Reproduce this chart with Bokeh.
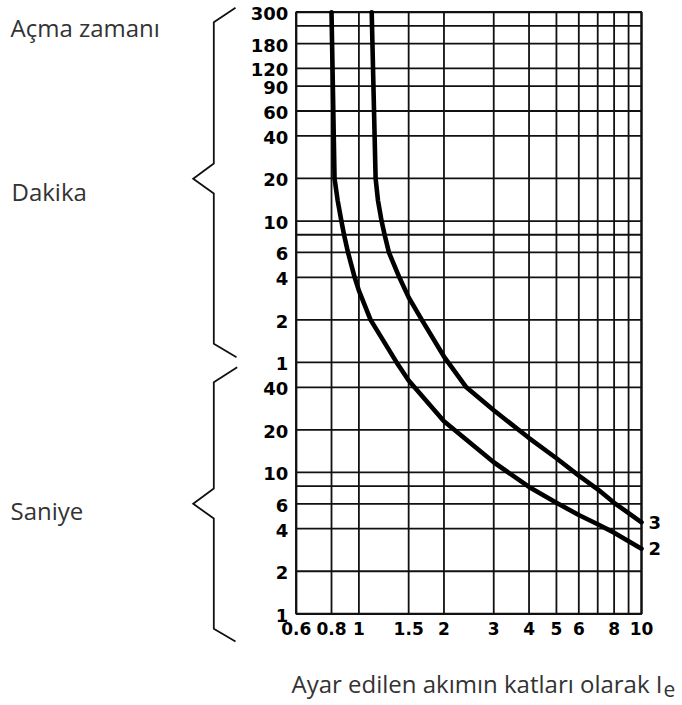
import numpy as np
from bokeh.plotting import figure
from bokeh.models import Range1d, LinearScale
from bokeh.embed import file_html
from bokeh.resources import INLINE
from bokeh.core.properties import value

# ---------------- data ----------------
x_ticks = [0.6, 0.8, 1, 1.5, 2, 3, 4, 5, 6, 8, 10]
x_tick_labels = ["0.6", "0.8", "1", "1.5", "2", "3", "4", "5", "6", "8", "10"]
x_grid_values = [0.6, 0.8, 1, 1.5, 2, 3, 4, 5, 6, 7, 8, 9, 10]

# trip time in seconds (upper part labelled in minutes)
y_ticks_s = [1, 2, 4, 6, 10, 20, 40, 60, 120, 240, 360, 600, 1200, 2400,
             3600, 5400, 7200, 10800, 18000]
y_tick_labels = ["1", "2", "4", "6", "10", "20", "40",
                 "1", "2", "4", "6", "10", "20", "40", "60", "90", "120", "180", "300"]
y_grid_values = [1, 2, 4, 6, 8, 10, 20, 40, 60, 120, 240, 360, 480, 600, 1200,
                 2400, 3600, 5400, 7200, 10800, 14400, 18000]

curve2_x = [0.80, 0.82, 0.841, 0.867, 0.886, 0.915, 0.966, 1.0, 1.10, 1.36, 1.5,
            2.0, 3.0, 4.0, 5.0, 6.0, 7.0, 8.0, 10]
curve2_t = [18000, 1200, 841, 600, 480, 360, 240, 193, 120, 60, 44.7,
            23, 11.8, 7.9, 6.1, 5.0, 4.3, 3.75, 2.89]
curve2_name = "2"

curve3_x = [1.11, 1.146, 1.168, 1.203, 1.233, 1.277, 1.39, 1.5, 1.67, 2.0, 2.4,
            3.0, 4.0, 5.0, 6.0, 7.0, 8.0, 10]
curve3_t = [18000, 1200, 841, 600, 480, 360, 240, 173, 120, 66, 40,
            27.5, 17.5, 12.6, 9.5, 7.6, 6.1, 4.44]
curve3_name = "3"

title_text = "Açma zamanı"
minutes_text = "Dakika"
seconds_text = "Saniye"
xlabel_text = "Ayar edilen akımın katları olarak I"
xlabel_sub = "e"

# ---------------- geometry / styles ----------------
W, H = 682, 705
FRAME_L, FRAME_R, FRAME_T, FRAME_B = 295.7, 641.0, 11.7, 613.3   # canvas pixels
X_MIN, X_MAX = x_grid_values[0], x_grid_values[-1]
Y_MIN, Y_MAX = y_grid_values[0], y_grid_values[-1]
dx = (FRAME_R - FRAME_L) / np.log10(X_MAX / X_MIN)
dy = (FRAME_B - FRAME_T) / np.log10(Y_MAX / Y_MIN)
x_range = Range1d(X_MIN * 10 ** (-FRAME_L / dx), X_MAX * 10 ** ((W - FRAME_R) / dx))
y_range = Range1d(Y_MIN * 10 ** (-(H - FRAME_B) / dy), Y_MAX * 10 ** (FRAME_T / dy))

INK = "#111111"
GREY = "#333333"
NUM_FONT = value("DejaVu Sans")
TXT_FONT = value("Open Sans")

p = figure(width=W, height=H, x_axis_type="log", y_axis_type="log",
           x_range=x_range, y_range=y_range,
           x_axis_location=None, y_axis_location=None,
           toolbar_location=None, output_backend="svg", min_border=0)
p.grid.visible = False
p.outline_line_color = None
p.background_fill_color = "white"
p.extra_x_ranges = {"px": Range1d(0, W)}
p.extra_y_ranges = {"px": Range1d(H, 0)}
p.extra_x_scales = {"px": LinearScale()}
p.extra_y_scales = {"px": LinearScale()}

# grid
p.segment(x0=x_grid_values, x1=x_grid_values, y0=Y_MIN, y1=Y_MAX,
          line_color=INK, line_width=1.8)
p.segment(x0=X_MIN, x1=X_MAX, y0=y_grid_values, y1=y_grid_values,
          line_color=INK, line_width=1.8)
p.quad(left=X_MIN, right=X_MAX, bottom=Y_MIN, top=Y_MAX, fill_color=None,
       line_color=INK, line_width=2.2)

# tick labels
p.text(x=[X_MIN] * len(y_ticks_s), y=y_ticks_s, text=y_tick_labels,
       x_offset=-8, y_offset=1.5, text_align="right", text_baseline="middle",
       text_font=NUM_FONT, text_font_style="bold", text_font_size="18px", text_color="black")
p.text(x=x_ticks, y=[Y_MIN] * len(x_ticks), text=x_tick_labels,
       y_offset=8, text_align="center", text_baseline="top",
       text_font=NUM_FONT, text_font_style="bold", text_font_size="17px", text_color="black")

# curves
p.line(curve2_x, curve2_t, line_color="black", line_width=4.6, line_join="round", line_cap="round")
p.line(curve3_x, curve3_t, line_color="black", line_width=4.6, line_join="round", line_cap="round")
p.text(x=[curve3_x[-1], curve2_x[-1]], y=[curve3_t[-1], curve2_t[-1]],
       text=[curve3_name, curve2_name], x_offset=7, text_baseline="middle", text_align="left",
       text_font=NUM_FONT, text_font_style="bold", text_font_size="18px", text_color="black")

# x-axis caption
p.text(x=[X_MAX], y=[Y_MIN], text=[xlabel_text], x_offset=21, y_offset=70,
       text_align="right", text_baseline="alphabetic", text_font=TXT_FONT,
       text_font_size="24px", text_color=GREY)
p.text(x=[X_MAX], y=[Y_MIN], text=[xlabel_sub], x_offset=22, y_offset=75,
       text_align="left", text_baseline="alphabetic", text_font=TXT_FONT,
       text_font_size="21px", text_color=GREY)

# braces and side captions (pixel space)
brace_min = dict(x=[235, 213.3, 213.3, 192.7, 213.3, 213.3, 236],
                 y=[7.3, 21.7, 163, 178.3, 193, 343.3, 356.7])
brace_sec = dict(x=[236.7, 213.3, 213.3, 192.7, 213.3, 213.3, 235],
                 y=[366.7, 381.7, 488, 503.3, 518, 628.3, 641])
for b in (brace_min, brace_sec):
    p.line(b["x"], b["y"], line_color=INK, line_width=1.8, line_join="miter",
           x_range_name="px", y_range_name="px")

p.text(x=[10, 11, 10], y=[27, 190.7, 509.5], text=[title_text, minutes_text, seconds_text],
       text_align="left", text_baseline="alphabetic", text_font=TXT_FONT,
       text_font_size="24px", text_color=GREY, x_range_name="px", y_range_name="px")

open("out.html", "w").write(file_html(p, INLINE))
